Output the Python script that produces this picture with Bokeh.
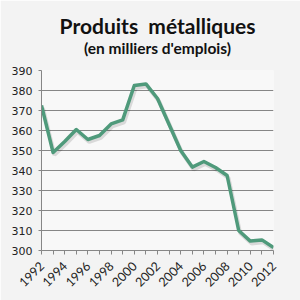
import math
from bokeh.plotting import figure
from bokeh.models import FixedTicker, Range1d, Title
from bokeh.embed import file_html
from bokeh.resources import INLINE

years = list(range(1992, 2013))
emplois = [372.5, 349, 354.5, 360.5, 355.5, 357.5, 363.3, 365.3, 382.5, 383.3,
           376, 363, 350, 341.7, 344.5, 341.5, 337.5, 310, 304.7, 305.3, 301.5]
y_ticks = [300, 310, 320, 330, 340, 350, 360, 370, 380, 390]
title_text = "Produits\u00a0 métalliques"
subtitle_text = "(en milliers d'emplois)"

p = figure(width=300, height=300, output_backend="svg", toolbar_location=None,
           x_range=Range1d(1992, 2012), y_range=Range1d(300, 390),
           min_border_left=41, min_border_right=27, min_border_top=70, min_border_bottom=50)
p.background_fill_color = "#f8f8f8"
p.border_fill_color = "#f3f3f3"
p.outline_line_color = None

# shadow then line
p.line([y + 0.12 for y in years], [v - 1.2 for v in emplois], line_width=4,
       line_color="#000000", line_alpha=0.12)
p.line(years, emplois, line_width=3.5, line_color="#4f9a7b", line_join="round")

p.xaxis.ticker = FixedTicker(ticks=years)
p.xaxis.major_label_overrides = {y: (str(y) if y % 2 == 0 else "") for y in years}
p.xaxis.major_label_orientation = math.pi / 4
p.xaxis.minor_tick_line_color = None
p.xaxis.major_tick_in = 0
p.xaxis.major_tick_out = 4
p.xaxis.axis_line_color = "#868686"
p.xaxis.major_tick_line_color = "#868686"
p.xaxis.major_label_text_font = "Lato"
p.xaxis.major_label_text_font_size = "12.5px"
p.xaxis.major_label_text_color = "#222222"
p.xaxis.major_label_standoff = 9

p.yaxis.ticker = FixedTicker(ticks=y_ticks)
p.yaxis.minor_tick_line_color = None
p.yaxis.major_tick_in = 0
p.yaxis.major_tick_out = 3
p.yaxis.axis_line_color = "#868686"
p.yaxis.major_tick_line_color = "#868686"
p.yaxis.major_label_text_font = "DejaVu Sans"
p.yaxis.major_label_text_font_size = "11px"
p.yaxis.major_label_text_color = "#222222"
p.yaxis.major_label_standoff = 6

p.xgrid.grid_line_color = None
p.ygrid.grid_line_color = "#868686"
p.ygrid.grid_line_width = 1

spacer = Title(text=" ", align="center", text_font_size="1px", standoff=11)
sub = Title(text=subtitle_text, align="center", text_font="Lato",
            text_font_style="bold", text_font_size="15.5px", text_color="#111111",
            offset=-7, standoff=0)
main = Title(text=title_text, align="center", text_font="Lato",
             text_font_style="bold", text_font_size="21px", text_color="#111111",
             offset=-7, standoff=-3)
p.add_layout(spacer, "above")
p.add_layout(sub, "above")
p.add_layout(main, "above")

open("out.html", "w").write(file_html(p, INLINE))
